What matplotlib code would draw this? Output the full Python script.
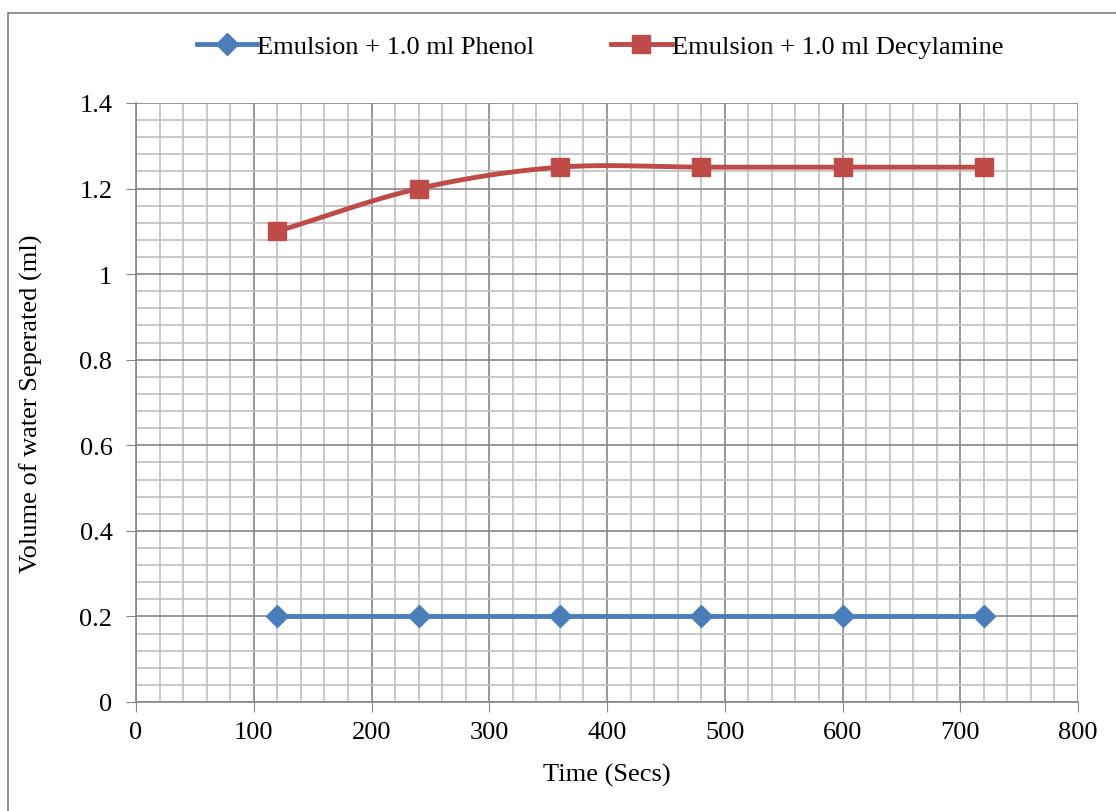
import numpy as np
import matplotlib
matplotlib.use("Agg")
import matplotlib.pyplot as plt
from matplotlib.lines import Line2D
from matplotlib.ticker import MultipleLocator

time_secs = [120, 240, 360, 480, 600, 720]
phenol = [0.2, 0.2, 0.2, 0.2, 0.2, 0.2]
decylamine = [1.1, 1.2, 1.25, 1.25, 1.25, 1.25]
label_phenol = "Emulsion + 1.0 ml Phenol"
label_decyl = "Emulsion + 1.0 ml Decylamine"

plt.rcParams['font.family'] = ['Liberation Serif', 'DejaVu Serif']

W, H = 1116, 812
FS = 19
fig = plt.figure(figsize=(W / 100, H / 100), dpi=100)
# chart-area frame: only top and left edges visible
fig.lines.append(Line2D([7.5 / W, 1], [1 - 13.5 / H, 1 - 13.5 / H], transform=fig.transFigure,
                        color='#8a8a8a', lw=1.3))
fig.lines.append(Line2D([7.5 / W, 7.5 / W], [0, 1 - 13.5 / H], transform=fig.transFigure,
                        color='#8a8a8a', lw=1.3))
ax = fig.add_axes([136 / W, 1 - 703 / H, (1078 - 136) / W, (703 - 104) / H])


def catmull(x, y, n=30):
    x = np.asarray(x, float); y = np.asarray(y, float)
    px = np.concatenate([[2 * x[0] - x[1]], x, [2 * x[-1] - x[-2]]])
    py = np.concatenate([[2 * y[0] - y[1]], y, [2 * y[-1] - y[-2]]])
    xs, ys = [], []
    t = np.linspace(0, 1, n)
    for i in range(1, len(px) - 2):
        for p, out in ((px, xs), (py, ys)):
            p0, p1, p2, p3 = p[i - 1], p[i], p[i + 1], p[i + 2]
            out.extend(0.5 * ((2 * p1) + (-p0 + p2) * t + (2 * p0 - 5 * p1 + 4 * p2 - p3) * t ** 2
                              + (-p0 + 3 * p1 - 3 * p2 + p3) * t ** 3))
    return np.array(xs), np.array(ys)


blue = '#4a7ebb'
red = '#be4b48'
ax.plot(time_secs, phenol, color=blue, lw=3.5, marker='D', ms=11, mfc=blue, mec=blue,
        label=label_phenol, zorder=3)
sx, sy = catmull(time_secs, decylamine)
ax.plot(sx, sy, color=red, lw=3.5, zorder=3)
ax.plot(time_secs, decylamine, color=red, lw=0, marker='s', ms=13, mfc=red, mec=red, zorder=4)
ax.plot([], [], color=red, lw=3.5, marker='s', ms=13, label=label_decyl)

ax.set_xlim(0, 800)
ax.set_ylim(0, 1.4)
ax.xaxis.set_major_locator(MultipleLocator(100))
ax.xaxis.set_minor_locator(MultipleLocator(20))
ax.yaxis.set_major_locator(MultipleLocator(0.2))
ax.yaxis.set_minor_locator(MultipleLocator(0.04))
ax.grid(which='major', color='#868686', lw=1.2)
ax.grid(which='minor', color='#c0c0c0', lw=1.2)
ax.set_axisbelow(True)
ax.tick_params(which='minor', length=0)
ax.tick_params(which='major', direction='out', length=7, color='#868686', labelsize=FS)
ax.tick_params(axis='x', pad=7)
ax.tick_params(axis='y', pad=10)
ax.set_yticks(np.arange(0, 1.41, 0.2))
ax.set_yticklabels(['0', '0.2', '0.4', '0.6', '0.8', '1', '1.2', '1.4'])
for s in ['top', 'right']:
    ax.spines[s].set_visible(False)
for s in ['left', 'bottom']:
    ax.spines[s].set_color('#868686')
    ax.spines[s].set_linewidth(1.2)

ax.set_xlabel('Time (Secs)', fontsize=FS, labelpad=14)
ax.set_ylabel('Volume of water Seperated (ml)', fontsize=FS, labelpad=26)

leg = fig.legend(loc='center', bbox_to_anchor=(0.5375, 1 - 47 / H), ncol=2, frameon=False,
                 fontsize=FS, handlelength=2.3, columnspacing=2.9, handletextpad=0.0)

fig.savefig('out.png', dpi=100)
